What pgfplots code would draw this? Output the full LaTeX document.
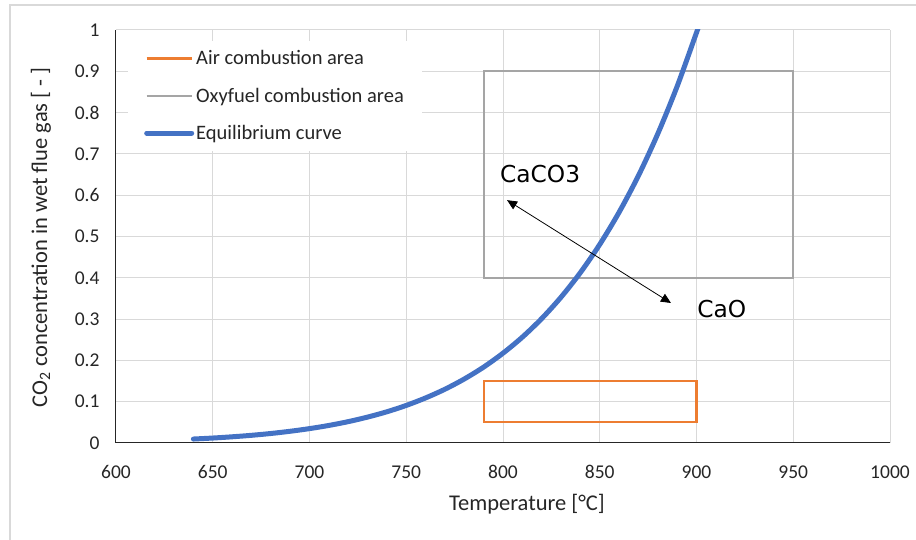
\documentclass[border=0pt]{standalone}
\usepackage{fontspec}
\setmainfont{Carlito}
\newfontfamily\annfont{DejaVu Sans}
\usepackage{pgfplots}
\pgfplotsset{compat=1.18}
\usetikzlibrary{arrows.meta}

\definecolor{airc}{HTML}{ED7D31}
\definecolor{oxyc}{HTML}{A5A5A5}
\definecolor{eqc}{HTML}{4472C4}
\definecolor{gridc}{HTML}{D9D9D9}

\begin{document}
\begin{tikzpicture}[x=1pt,y=1pt]
\useasboundingbox (-116,-97) rectangle (800,443);
% chart frame
\draw[gridc, line width=2pt] (-106,-97) -- (-106,438) -- (800,438);
\begin{axis}[
  at={(0,0)}, anchor=south west,
  scale only axis, width=774pt, height=413pt,
  xmin=600, xmax=1000, ymin=0, ymax=1,
  xtick={600,650,700,750,800,850,900,950,1000},
  ytick={0,0.1,0.2,0.3,0.4,0.5,0.6,0.7,0.8,0.9,1},
  axis lines=left,
  axis line style={-, black!85, line width=1pt},
  grid=major,
  grid style={gridc, line width=1pt},
  major tick length=0pt,
  /pgf/number format/1000 sep={},
  /pgf/number format/assume math mode=true,
  tick label style={font=\fontsize{19.5}{19.5}\selectfont, text=black!85},
  yticklabel style={xshift=-13pt},
  xticklabel style={yshift=-19pt},
  xlabel={Temperature [°C]},
  ylabel={CO\textsubscript{2} concentration in wet flue gas [ - ]},
  label style={font=\fontsize{22.5}{22.5}\selectfont, text=black!85},
  xlabel style={at={(axis description cs:0.531,-0.148)}, anchor=center},
  ylabel style={at={(axis description cs:-0.097,0.498)}, anchor=center, rotate=0},
  legend cell align=left,
  legend style={
    at={(axis description cs:0.0155,0.9746)}, anchor=north west,
    draw=none, fill=white, text=black!85,
    font=\fontsize{20.5}{20.5}\selectfont,
    row sep=17.5pt, inner xsep=16pt, inner ysep=8pt,
  },
  legend image code/.code={\draw[#1] (0pt,0pt) -- (45pt,0pt);},
  clip=true,
]
% operating windows
\addplot[airc, line width=2.2pt, line join=miter] coordinates {
  (790,0.05) (900,0.05) (900,0.15) (790,0.15)
} -- cycle;
\addlegendentry{Air combustion area}
\addplot[oxyc, line width=2.2pt, line join=miter] coordinates {
  (790,0.40) (950,0.40) (950,0.90) (790,0.90)
} -- cycle;
\addlegendentry{Oxyfuel combustion area}
% CaCO3 / CaO equilibrium CO2 partial pressure
\addplot[eqc, line width=5pt, smooth, line cap=round] coordinates {
  (640,0.0096) (650,0.0120) (660,0.0150) (670,0.0186) (680,0.0230)
  (690,0.0284) (700,0.0348) (710,0.0425) (720,0.0517) (730,0.0627)
  (740,0.0756) (750,0.0910) (760,0.1091) (770,0.1302) (780,0.1550)
  (790,0.1838) (800,0.2175) (810,0.2563) (820,0.3013) (830,0.3531)
  (840,0.4126) (850,0.4808) (860,0.5587) (870,0.6474) (880,0.7488)
  (890,0.8636) (900,0.9936) (900.46,1.0)
};
\addlegendentry{Equilibrium curve}
% reaction direction
\draw[{Triangle[length=10pt,width=9pt]}-{Triangle[length=10pt,width=9pt]}, line width=0.8pt]
  (axis cs:802.1,0.588) -- (axis cs:886.8,0.339);
\node[anchor=base west, inner sep=0pt, font=\annfont\fontsize{23.3}{23.3}\selectfont]
  at (axis cs:798.4,0.630) {CaCO3};
\node[anchor=base west, inner sep=0pt, font=\annfont\fontsize{23.3}{23.3}\selectfont]
  at (axis cs:900.3,0.305) {CaO};
\end{axis}
\end{tikzpicture}
\end{document}
